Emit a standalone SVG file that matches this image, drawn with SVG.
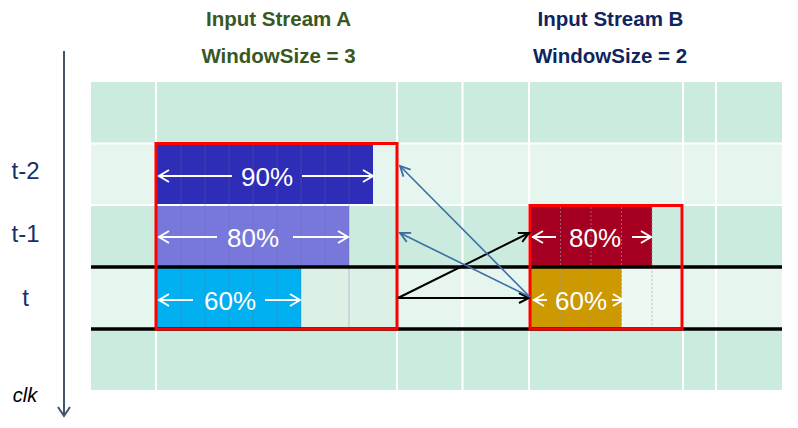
<svg xmlns="http://www.w3.org/2000/svg" width="798" height="428" viewBox="0 0 798 428">
<style>
.title{font-family:"Liberation Sans",Arial,sans-serif;font-weight:bold;font-size:20.5px;text-anchor:middle}
.ta{fill:#385723}
.tb{fill:#0D2560}
.lbl{font-family:"Liberation Sans",Arial,sans-serif;font-size:24px;fill:#13306B;text-anchor:middle}
.pct{font-family:"Liberation Sans",Arial,sans-serif;font-size:26px;fill:#fff;text-anchor:middle}
.grid{stroke:#fff;stroke-width:2}
.blk{stroke:#000;stroke-width:3.5}
.sub{stroke:#6A6A9A;stroke-opacity:0.35;stroke-width:1}
.subd{stroke:#999;stroke-opacity:0.6;stroke-width:1;stroke-dasharray:2 2}
.win{fill:none;stroke:#FF0000;stroke-width:3}
.wa{stroke:#fff;stroke-width:2;fill:none;marker-end:url(#mw)}
.ca{stroke:#000;stroke-width:2;fill:none;marker-end:url(#mk)}
.cb{stroke:#3A6EA5;stroke-width:1.6;fill:none;marker-end:url(#mb)}
</style>
<defs>
<marker id="mw" viewBox="0 0 14 14" refX="12" refY="7" markerWidth="14" markerHeight="14" markerUnits="userSpaceOnUse" orient="auto">
<path d="M2,1 L12,7 L2,13" fill="none" stroke="#fff" stroke-width="2"/>
</marker>
<marker id="mk" viewBox="0 0 14 14" refX="12" refY="7" markerWidth="14" markerHeight="14" markerUnits="userSpaceOnUse" orient="auto">
<path d="M2,2 L12,7 L2,12" fill="none" stroke="#000" stroke-width="2"/>
</marker>
<marker id="mb" viewBox="0 0 14 14" refX="12" refY="7" markerWidth="14" markerHeight="14" markerUnits="userSpaceOnUse" orient="auto">
<path d="M2,2 L12,7 L2,12" fill="none" stroke="#3A6EA5" stroke-width="1.8"/>
</marker>
<marker id="mc" viewBox="0 0 16 12" refX="8" refY="10" markerWidth="16" markerHeight="12" markerUnits="userSpaceOnUse" orient="0">
<path d="M2,1 L8,10 L14,1" fill="none" stroke="#44546A" stroke-width="2"/>
</marker>
</defs>

<g id="titles">
<text class="title ta" x="278.5" y="26">Input Stream A</text>
<text class="title ta" x="278.5" y="63">WindowSize = 3</text>
<text class="title tb" x="610.5" y="26">Input Stream B</text>
<text class="title tb" x="610" y="63">WindowSize = 2</text>
</g>

<g id="clock">
<line x1="64" y1="51" x2="64" y2="416" stroke="#44546A" stroke-width="2" marker-end="url(#mc)"/>
<text x="25" y="402" font-family="'Liberation Sans',Arial,sans-serif" font-size="20" font-style="italic" fill="#000" text-anchor="middle">clk</text>
<text class="lbl" x="25.5" y="179">t-2</text>
<text class="lbl" x="25.5" y="242">t-1</text>
<text class="lbl" x="25.5" y="306">t</text>
</g>

<g id="table">
<rect x="91" y="82" width="691" height="308" fill="#CCEBDF"/>
<rect x="91" y="143" width="691" height="62" fill="#E6F5EE"/>
<rect x="91" y="267" width="691" height="62" fill="#E6F5EE"/>
<rect x="301" y="267" width="96" height="62" fill="#DCF0E6"/>
<rect x="621" y="267" width="61" height="62" fill="#EEF8F2"/>
<g class="grid">
<line x1="156" y1="82" x2="156" y2="390"/>
<line x1="397" y1="82" x2="397" y2="390"/>
<line x1="462.5" y1="82" x2="462.5" y2="390"/>
<line x1="529" y1="82" x2="529" y2="390"/>
<line x1="683" y1="82" x2="683" y2="390"/>
<line x1="716" y1="82" x2="716" y2="390"/>
<line x1="91" y1="143.5" x2="782" y2="143.5"/>
<line x1="91" y1="205" x2="782" y2="205"/>
</g>
</g>

<g id="windowA">
<rect x="157" y="144.5" width="216" height="59.5" fill="#2E2DB7"/>
<rect x="157" y="206" width="192" height="60" fill="#7878DC"/>
<rect x="157" y="268" width="144" height="60" fill="#00B0F0"/>
<g class="sub">
<line x1="181" y1="145" x2="181" y2="328"/>
<line x1="205" y1="145" x2="205" y2="328"/>
<line x1="229" y1="145" x2="229" y2="328"/>
<line x1="253" y1="145" x2="253" y2="328"/>
<line x1="277" y1="145" x2="277" y2="328"/>
<line x1="301" y1="145" x2="301" y2="328"/>
<line x1="325" y1="145" x2="325" y2="266"/>
<line x1="349" y1="145" x2="349" y2="328"/>
</g>
<line class="wa" x1="232" y1="176" x2="159" y2="176"/>
<line class="wa" x1="302" y1="176" x2="373" y2="176"/>
<text class="pct" x="267" y="185.5">90%</text>
<line class="wa" x1="217" y1="237" x2="159" y2="237"/>
<line class="wa" x1="293" y1="237" x2="348" y2="237"/>
<text class="pct" x="253" y="246.5">80%</text>
<line class="wa" x1="193" y1="300" x2="159" y2="300"/>
<line class="wa" x1="265" y1="300" x2="300" y2="300"/>
<text class="pct" x="230" y="309.5">60%</text>
</g>

<g id="windowB">
<rect x="530" y="206" width="122" height="60" fill="#A50021"/>
<rect x="530" y="268" width="91.5" height="60" fill="#CC9900"/>
<g class="subd">
<line x1="560.5" y1="207" x2="560.5" y2="328"/>
<line x1="591" y1="207" x2="591" y2="328"/>
<line x1="621.5" y1="207" x2="621.5" y2="328"/>
<line x1="652" y1="207" x2="652" y2="328"/>
</g>
<line class="wa" x1="556" y1="237" x2="533" y2="237"/>
<line class="wa" x1="632" y1="237" x2="651" y2="237"/>
<text class="pct" x="595" y="246.5">80%</text>
<line class="wa" x1="547" y1="300" x2="534" y2="300"/>
<line class="wa" x1="612" y1="300" x2="623" y2="300"/>
<text class="pct" x="581" y="309.5">60%</text>
</g>

<g id="rules">
<line class="blk" x1="91" y1="267" x2="782" y2="267"/>
<line class="blk" x1="91" y1="329" x2="782" y2="329"/>
</g>

<g id="frames">
<rect class="win" x="156" y="143.5" width="241" height="185.5"/>
<rect class="win" x="530" y="205.5" width="152" height="123.5"/>
</g>

<g id="connectors">
<line class="ca" x1="398" y1="298" x2="529" y2="298"/>
<line class="ca" x1="398" y1="298" x2="529" y2="233"/>
<line class="cb" x1="530" y1="297" x2="400" y2="166"/>
<line class="cb" x1="530" y1="297" x2="400" y2="233"/>
</g>
</svg>
